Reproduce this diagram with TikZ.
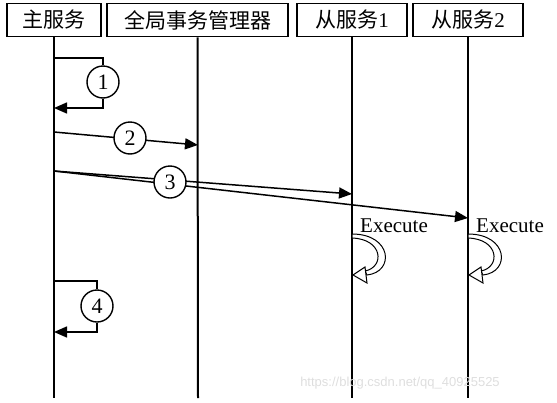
\documentclass[tikz,border=0pt]{standalone}
\usepackage{fontspec}
\setmainfont{Liberation Serif}
\newfontfamily\cjk{Noto Sans CJK SC}
\newfontfamily\wmfont{Liberation Sans}
\usetikzlibrary{arrows.meta}
\begin{document}
\begin{tikzpicture}[x=1pt,y=-1pt,
  hdr/.style={draw,line width=1.6pt,minimum height=33pt,inner sep=0pt,font=\fontsize{21}{24}\selectfont},
  life/.style={line width=2pt},
  msg/.style={line width=1.5pt},
  tip/.style={-{Triangle[length=13pt,width=11pt]}},
  num/.style={draw,circle,fill=white,line width=1.4pt,minimum size=32pt,inner sep=0pt,font=\fontsize{22}{24}\selectfont},
  exe/.style={font=\fontsize{21}{24}\selectfont,inner sep=0pt,anchor=base west},
  execarrow/.pic={
    \draw[line width=1pt,fill=white] (0,0) .. controls (40,0) and (43,38) .. (15,41)
      -- (13,37) .. controls (33,33) and (31,5) .. (0,4) -- cycle;
    \draw[line width=1pt,fill=white] (1,41) -- (13,33) -- (15,49) -- cycle;
  }]
\useasboundingbox (0,0) rectangle (557,402);
% headers
\node[hdr,minimum width=94pt] (h1) at (54,20) {\cjk 主服务};
\node[hdr,minimum width=181pt] (h2) at (197.5,20) {\cjk 全局事务管理器};
\node[hdr,minimum width=110pt] (h3) at (352,20) {{\cjk 从服务}1};
\node[hdr,minimum width=110pt] (h4) at (468,20) {{\cjk 从服务}2};
% lifeline ends
\coordinate (e1) at (54,398);
\coordinate (e2) at (198,398);
\coordinate (e3) at (352,398);
\coordinate (e4) at (468,398);
\draw[life] (h1.south) -- (e1);
\draw[life] (h2.south) -- (e2);
\draw[life] (h3.south) -- (e3);
\draw[life] (h4.south) -- (e4);
% step 1 self loop
\coordinate (l1a) at (54,58);
\coordinate (l1b) at (54,108);
\node[num] (c1) at (103,82) {1};
\draw[msg] (l1a) -| (c1.north);
\draw[msg,tip] (c1.south) |- (l1b);
% step 2
\coordinate (a2s) at (54,132);
\coordinate (a2e) at (198,145);
\draw[msg,tip] (a2s) -- (a2e);
\node[num] (c2) at (130,138) {2};
% step 3
\coordinate (a3s) at (54,171);
\coordinate (a3e) at (352,194);
\coordinate (a3f) at (468,218);
\draw[msg,tip] (a3s) -- (a3e);
\draw[msg,tip] (a3s) -- (a3f);
\node[num] (c3) at (170,182) {3};
% execute
\node[exe] (x1) at (360,232) {Execute};
\node[exe] (x2) at (476,232) {Execute};
\pic at (352,234) {execarrow};
\pic at (468,234) {execarrow};
% step 4 self loop
\coordinate (l4a) at (54,281);
\coordinate (l4b) at (54,332);
\node[num] (c4) at (97,306) {4};
\draw[msg] (l4a) -| (c4.north);
\draw[msg,tip] (c4.south) |- (l4b);
% watermark
\node[text=black!13,font=\wmfont\fontsize{13}{15}\selectfont,inner sep=0pt] (wm) at (400,383) {https://blog.csdn.net/qq\_40925525};
\end{tikzpicture}
\end{document}
